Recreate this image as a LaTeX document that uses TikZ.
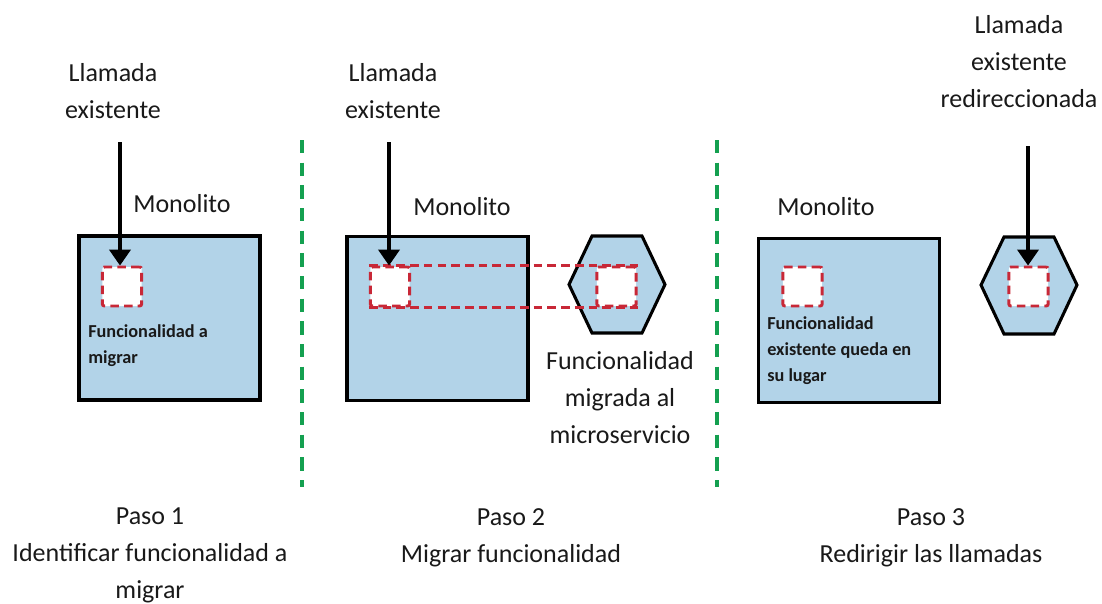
\documentclass[tikz,border=0pt]{standalone}
\usepackage{fontspec}
\setmainfont{Carlito}
\usetikzlibrary{arrows.meta}
\definecolor{boxblue}{RGB}{178,211,232}
\definecolor{dashred}{RGB}{200,40,55}
\definecolor{sepgreen}{RGB}{20,160,80}
\tikzset{
  px/.style={x=0.75pt,y=-0.75pt},
  mono/.style={draw=black,line width=2.3pt,fill=boxblue,inner sep=0pt,minimum width=135.75pt,minimum height=123pt},
  sq/.style={draw=dashred,line width=2.2pt,dash pattern=on 6.5pt off 3.8pt,fill=white,inner sep=0pt,minimum width=29.5pt,minimum height=29.25pt,rounded corners=1.5pt},
  reddash/.style={draw=dashred,line width=2.2pt,dash pattern=on 6.5pt off 3.8pt},
  sep/.style={draw=sepgreen,line width=2.4pt,dash pattern=on 10pt off 7pt},
  call/.style={draw=black,line width=2.3pt,-{Triangle[width=16pt,length=12pt]}},
  big/.style={font=\fontsize{19.5}{27.75}\selectfont,align=center,inner sep=0pt,text=black!90},
  small/.style={font=\fontsize{13.7}{19.5}\selectfont\bfseries,align=left,inner sep=0pt,anchor=north west,text=black!90},
  hexa/.style={draw=black,line width=2.3pt,fill=boxblue}
}
\begin{document}
\begin{tikzpicture}[px]
\useasboundingbox (0,0) rectangle (1102,603);
% ---------- Step 1
\node[mono] (m1) at (169.5,318) {};
\node[sq] (s1) at (122,286.5) {};
\node[big] (t1) at (113,91.5) {Llamada\\existente};
\coordinate (c1) at (120,142);
\draw[call] (c1) -- (c1 |- s1.north);
\node[big] (mono1) at (182,204) {Monolito};
\node[small] (f1) at (88,324) {Funcionalidad a\\migrar};
% separator 1
\coordinate (g1a) at (302,140);
\coordinate (g1b) at (302,487);
\draw[sep] (g1a) -- (g1b);
% ---------- Step 2
\node[mono] (m2) at (437.5,318.5) {};
\draw[hexa] (592,236) -- (642,236) -- (665,284.5) -- (642,333) -- (592,333) -- (569,284.5) -- cycle;
\node[sq] (s2) at (390,286.5) {};
\node[sq] (s3) at (616.5,286.5) {};
\draw[reddash] (s2.north west) -- (s3.north east);
\draw[reddash] (s2.south west) -- (s3.south east);
\node[big] (t2) at (393,91.5) {Llamada\\existente};
\coordinate (c2) at (389,142);
\draw[call] (c2) -- (c2 |- s2.north);
\node[big] (mono2) at (462,207) {Monolito};
\node[big] (f2) at (620,398) {Funcionalidad\\migrada al\\microservicio};
% separator 2
\coordinate (g2a) at (717,140);
\coordinate (g2b) at (717,487);
\draw[sep] (g2a) -- (g2b);
% ---------- Step 3
\node[mono] (m3) at (849,320.5) {};
\node[sq] (s4) at (802.5,286.5) {};
\node[big] (mono3) at (826,207) {Monolito};
\node[small] (f3) at (767,316) {Funcionalidad\\existente queda en\\su lugar};
\draw[hexa] (1004,237) -- (1054,237) -- (1077,285) -- (1054,334) -- (1004,334) -- (981,285) -- cycle;
\node[sq] (s5) at (1028.5,286.5) {};
\node[big] (t3) at (1019,61.5) {Llamada\\existente\\redireccionada};
\coordinate (c3) at (1028,146);
\draw[call] (c3) -- (c3 |- s5.north);
% ---------- bottom labels
\node[big] (p1) at (150,555) {Paso 1\\Identificar funcionalidad a\\migrar};
\node[big] (p2) at (511,537.5) {Paso 2\\Migrar funcionalidad};
\node[big] (p3) at (931,537.5) {Paso 3\\Redirigir las llamadas};
\end{tikzpicture}
\end{document}
